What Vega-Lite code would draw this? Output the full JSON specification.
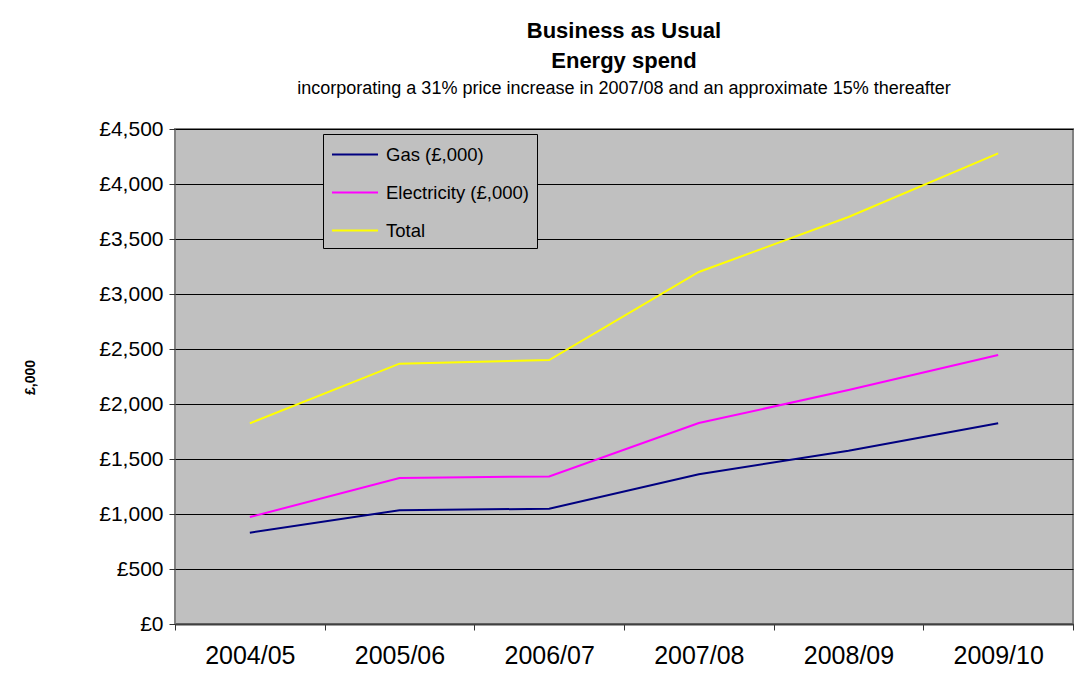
{
  "$schema": "https://vega.github.io/schema/vega-lite/v6.json",
  "width": 898,
  "height": 495,
  "autosize": {"type": "none"},
  "padding": {"left": 175, "top": 129, "right": 18, "bottom": 74},
  "background": "white",
  "title": {
    "text": ["Business as Usual", "Energy spend"],
    "subtitle": "incorporating a 31% price increase in 2007/08 and an approximate 15% thereafter",
    "anchor": "middle",
    "frame": "group",
    "font": "Liberation Sans",
    "fontSize": 22,
    "fontWeight": "bold",
    "lineHeight": 30,
    "color": "black",
    "subtitleFont": "Liberation Sans",
    "subtitleFontSize": 18,
    "subtitleColor": "black",
    "subtitlePadding": 7,
    "offset": 19
  },
  "data": {
    "values": [
      {"year": "2004/05", "series": "Gas (£,000)", "value": 830},
      {"year": "2005/06", "series": "Gas (£,000)", "value": 1034},
      {"year": "2006/07", "series": "Gas (£,000)", "value": 1048},
      {"year": "2007/08", "series": "Gas (£,000)", "value": 1361},
      {"year": "2008/09", "series": "Gas (£,000)", "value": 1576},
      {"year": "2009/10", "series": "Gas (£,000)", "value": 1825},
      {"year": "2004/05", "series": "Electricity (£,000)", "value": 972},
      {"year": "2005/06", "series": "Electricity (£,000)", "value": 1327},
      {"year": "2006/07", "series": "Electricity (£,000)", "value": 1342},
      {"year": "2007/08", "series": "Electricity (£,000)", "value": 1827},
      {"year": "2008/09", "series": "Electricity (£,000)", "value": 2127},
      {"year": "2009/10", "series": "Electricity (£,000)", "value": 2445},
      {"year": "2004/05", "series": "Total", "value": 1824},
      {"year": "2005/06", "series": "Total", "value": 2367},
      {"year": "2006/07", "series": "Total", "value": 2400},
      {"year": "2007/08", "series": "Total", "value": 3200},
      {"year": "2008/09", "series": "Total", "value": 3700},
      {"year": "2009/10", "series": "Total", "value": 4279}
    ]
  },
  "mark": {"type": "line", "strokeWidth": 2},
  "encoding": {
    "x": {
      "field": "year",
      "type": "nominal",
      "bandPosition": 0.5,
      "scale": {"type": "band", "paddingInner": 0, "paddingOuter": 0},
      "axis": {
        "title": null,
        "labelAngle": 0,
        "labelFont": "Liberation Sans",
        "labelFontSize": 25,
        "labelColor": "black",
        "labelPadding": 13,
        "tickBand": "extent",
        "tickSize": 6,
        "tickColor": "#333333",
        "domainColor": "#404040",
        "domainWidth": 2,
        "grid": false
      }
    },
    "y": {
      "field": "value",
      "type": "quantitative",
      "scale": {"domain": [0, 4500], "nice": false},
      "axis": {
        "title": "£,000",
        "titleFont": "Liberation Sans",
        "titleFontSize": 14,
        "titleFontWeight": "bold",
        "titleColor": "black",
        "titleX": -145,
        "titleY": 248,
        "titleAngle": -90,
        "titleAlign": "center",
        "titleBaseline": "middle",
        "values": [0, 500, 1000, 1500, 2000, 2500, 3000, 3500, 4000, 4500],
        "labelExpr": "'£' + format(datum.value, ',')",
        "labelFont": "Liberation Sans",
        "labelFontSize": 21,
        "labelColor": "black",
        "labelPadding": 6,
        "tickSize": 6,
        "tickColor": "#333333",
        "domain": false,
        "grid": true,
        "gridColor": "black",
        "gridWidth": 1,
        "gridOpacity": 1
      }
    },
    "color": {
      "field": "series",
      "type": "nominal",
      "scale": {
        "domain": ["Gas (£,000)", "Electricity (£,000)", "Total"],
        "range": ["#000080", "#FF00FF", "#FFFF00"]
      },
      "legend": {
        "title": null,
        "orient": "none",
        "legendX": 148,
        "legendY": 5,
        "fillColor": "#C0C0C0",
        "strokeColor": "black",
        "padding": 8,
        "symbolType": "M-1,0H3",
        "symbolSize": 529,
        "symbolStrokeWidth": 2,
        "symbolFillColor": "transparent",
        "labelFont": "Liberation Sans",
        "labelFontSize": 18.5,
        "labelColor": "black",
        "labelOffset": 30,
        "rowPadding": 16,
        "labelLimit": 300
      }
    }
  },
  "config": {
    "view": {"fill": "#C0C0C0", "stroke": "#808080", "strokeWidth": 2}
  }
}
